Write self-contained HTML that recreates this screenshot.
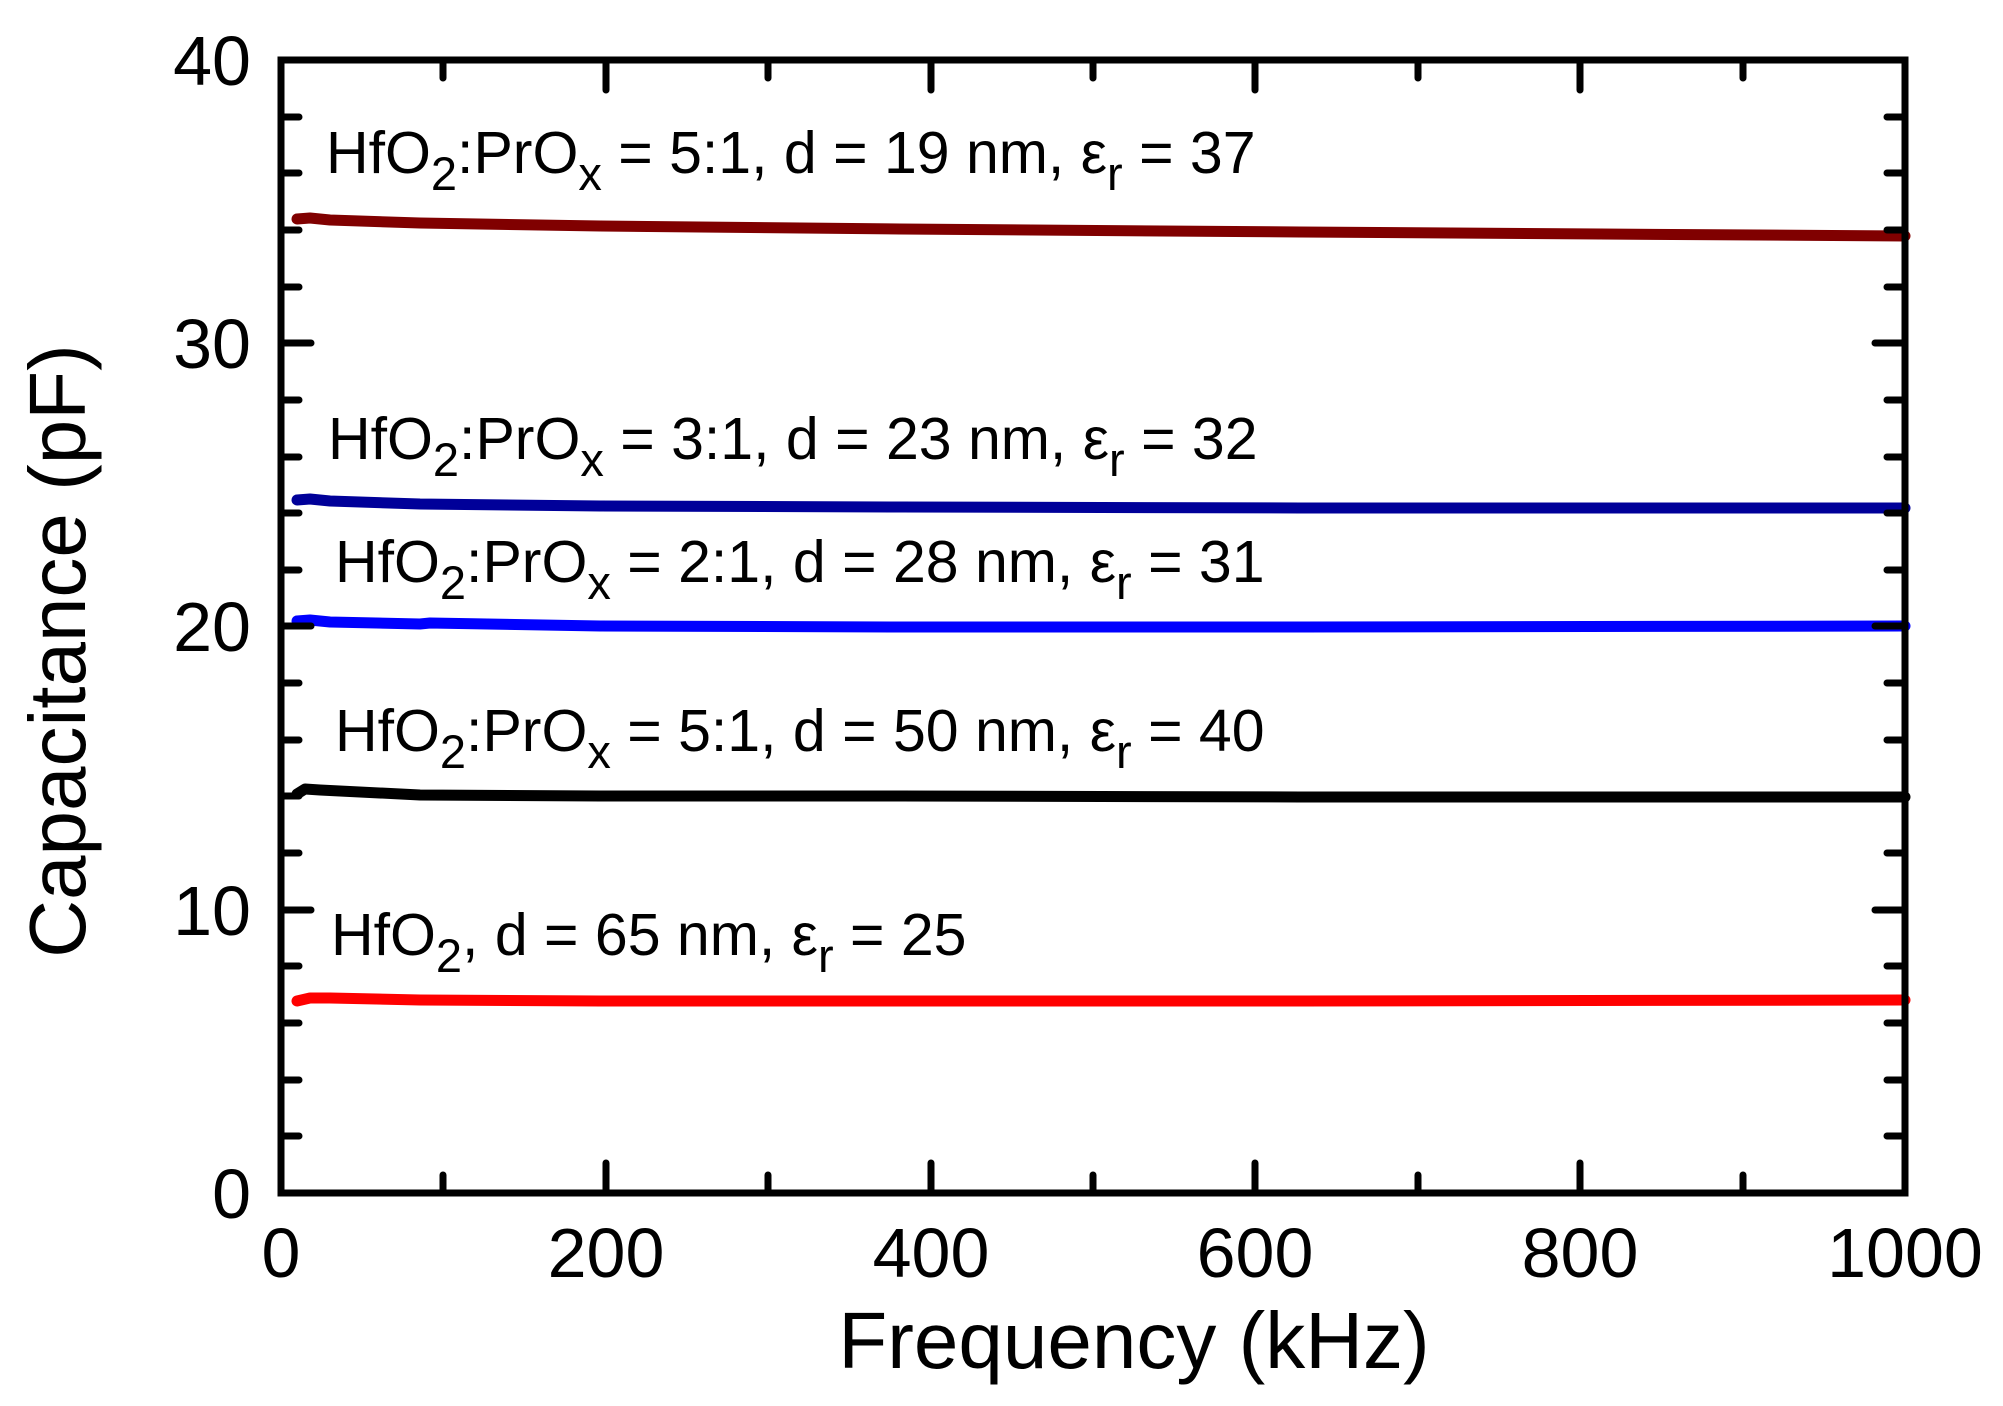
<!DOCTYPE html>
<html><head><meta charset="utf-8"><style>html,body{margin:0;padding:0;background:#fff}svg{display:block}</style></head>
<body>
<svg width="2003" height="1406" viewBox="0 0 2003 1406" xmlns="http://www.w3.org/2000/svg" font-family="Liberation Sans, Arial, sans-serif">
<rect width="2003" height="1406" fill="#fff"/>
<g fill="none" stroke-width="11" stroke-linecap="round" stroke-linejoin="round">
<path stroke="#800000" d="M297,219 L310,218 L330,220 L420,223 L600,226 L900,229 L1300,232 L1600,234 L1905,236"/>
<path stroke="#000099" d="M297,500 L310,499 L330,501 L420,504 L600,506 L900,507 L1300,508 L1905,508"/>
<path stroke="#0000ff" d="M297,621 L310,620 L330,622 L420,624 L430,623 L600,626 L900,627 L1300,627 L1905,626"/>
<path stroke="#000000" d="M297,794 L305,789 L320,790 L420,795 L600,796 L900,796 L1300,797 L1905,797"/>
<path stroke="#ff0000" d="M297,1001 L310,998 L330,998 L420,1000 L600,1001 L900,1001 L1300,1001 L1905,1000"/>
</g>
<rect x="281" y="60" width="1624" height="1133" fill="none" stroke="#000" stroke-width="7"/>
<g stroke="#000" stroke-width="7" stroke-linecap="round">
<path d="M281,60h30M281,117h18M281,173h18M281,230h18M281,287h18M281,343h30M281,400h18M281,457h18M281,513h18M281,570h18M281,626h30M281,683h18M281,740h18M281,796h18M281,853h18M281,910h30M281,966h18M281,1023h18M281,1080h18M281,1136h18"/>
<path d="M1905,60h-30M1905,117h-18M1905,173h-18M1905,230h-18M1905,287h-18M1905,343h-30M1905,400h-18M1905,457h-18M1905,513h-18M1905,570h-18M1905,626h-30M1905,683h-18M1905,740h-18M1905,796h-18M1905,853h-18M1905,910h-30M1905,966h-18M1905,1023h-18M1905,1080h-18M1905,1136h-18"/>
<path d="M443,1193v-18M606,1193v-30M768,1193v-18M931,1193v-30M1093,1193v-18M1255,1193v-30M1418,1193v-18M1580,1193v-30M1743,1193v-18"/>
<path d="M443,60v18M606,60v30M768,60v18M931,60v30M1093,60v18M1255,60v30M1418,60v18M1580,60v30M1743,60v18"/>
</g>
<g font-size="70" fill="#000" text-anchor="end">
<text x="251" y="1218">0</text>
<text x="251" y="935">10</text>
<text x="251" y="651">20</text>
<text x="251" y="368">30</text>
<text x="251" y="85">40</text>
</g>
<g font-size="70" fill="#000" text-anchor="middle">
<text x="281" y="1277">0</text>
<text x="606" y="1277">200</text>
<text x="931" y="1277">400</text>
<text x="1255" y="1277">600</text>
<text x="1580" y="1277">800</text>
<text x="1905" y="1277">1000</text>
</g>
<text x="1134" y="1368" font-size="80" text-anchor="middle" fill="#000">Frequency (kHz)</text>
<text transform="translate(85,651) rotate(-90)" font-size="80" text-anchor="middle" fill="#000">Capacitance (pF)</text>
<g font-size="59" fill="#000">
<text x="326" y="173">HfO<tspan font-size="47" dy="17">2</tspan><tspan dy="-17">:PrO</tspan><tspan font-size="47" dy="17">x</tspan><tspan dy="-17"> = 5:1, d = 19 nm, ε</tspan><tspan font-size="47" dy="17">r</tspan><tspan dy="-17"> = 37</tspan></text>
<text x="328" y="459">HfO<tspan font-size="47" dy="17">2</tspan><tspan dy="-17">:PrO</tspan><tspan font-size="47" dy="17">x</tspan><tspan dy="-17"> = 3:1, d = 23 nm, ε</tspan><tspan font-size="47" dy="17">r</tspan><tspan dy="-17"> = 32</tspan></text>
<text x="335" y="582">HfO<tspan font-size="47" dy="17">2</tspan><tspan dy="-17">:PrO</tspan><tspan font-size="47" dy="17">x</tspan><tspan dy="-17"> = 2:1, d = 28 nm, ε</tspan><tspan font-size="47" dy="17">r</tspan><tspan dy="-17"> = 31</tspan></text>
<text x="335" y="751">HfO<tspan font-size="47" dy="17">2</tspan><tspan dy="-17">:PrO</tspan><tspan font-size="47" dy="17">x</tspan><tspan dy="-17"> = 5:1, d = 50 nm, ε</tspan><tspan font-size="47" dy="17">r</tspan><tspan dy="-17"> = 40</tspan></text>
<text x="331" y="955">HfO<tspan font-size="47" dy="17">2</tspan><tspan dy="-17">, d = 65 nm, ε</tspan><tspan font-size="47" dy="17">r</tspan><tspan dy="-17"> = 25</tspan></text>
</g>
</svg>
</body></html>
